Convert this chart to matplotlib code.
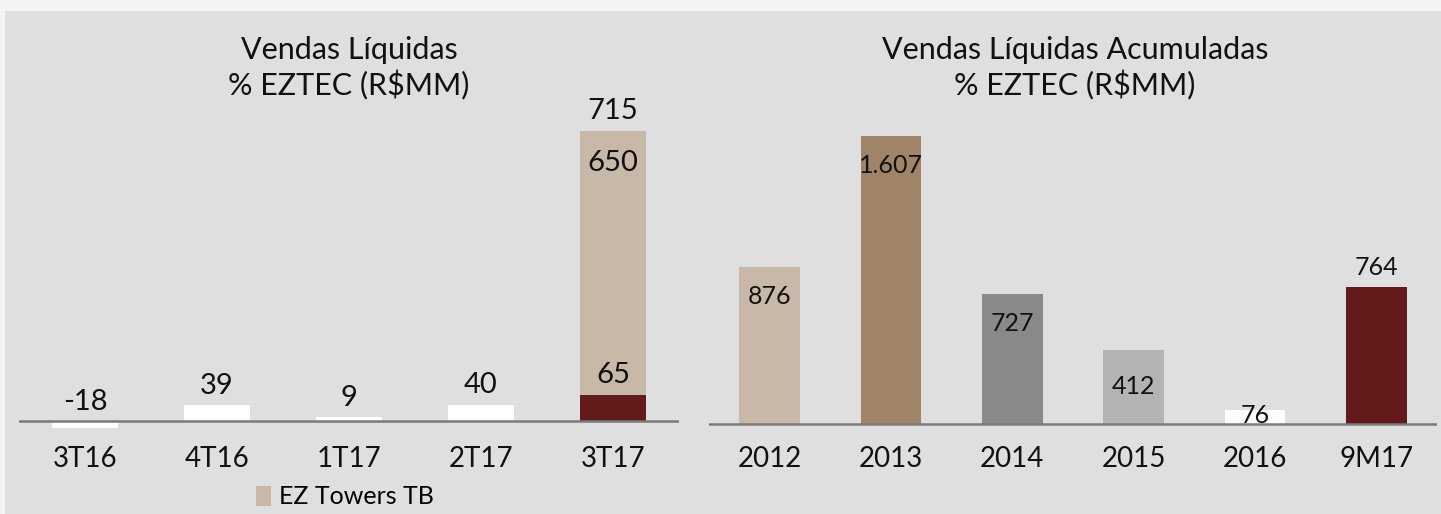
import matplotlib
matplotlib.use("Agg")
import matplotlib.pyplot as plt
import matplotlib.transforms as mtrans
from matplotlib.patches import Rectangle, Patch

plt.rcParams['font.family'] = ['Lato', 'DejaVu Sans']

# left chart data (quarterly)
quarters = ["3T16", "4T16", "1T17", "2T17", "3T17"]
others = [-18, 39, 9, 40, 65]
towers = [0, 0, 0, 0, 650]
totals = [-18, 39, 9, 40, 715]

# right chart data (yearly)
years = ["2012", "2013", "2014", "2015", "2016", "9M17"]
yearly = [876, 1607, 727, 412, 76, 764]

W, H = 1441, 514
fig = plt.figure(figsize=(W / 100, H / 100), dpi=100, facecolor="#f4f4f4")

# grey panel behind both charts
fig.patches.append(Rectangle((5 / W, 0), 1, 1 - 11 / H, transform=fig.transFigure,
                             facecolor="#dfdfdf", edgecolor="none", zorder=-5))

def px_axes(x0, x1, y_top, y_bot):
    return fig.add_axes([x0 / W, 1 - y_bot / H, (x1 - x0) / W, (y_bot - y_top) / H])

def clean(ax):
    ax.set_facecolor("none")
    for s in ax.spines.values():
        s.set_visible(False)
    ax.set_xticks([])
    ax.set_yticks([])

# ---------------- left chart ----------------
ax1 = px_axes(19, 679, 100, 460)
clean(ax1)
ax1.set_xlim(-0.5, 4.5)
ax1.set_ylim(-96, 791)

x1 = list(range(len(quarters)))
base_cols = ["#ffffff", "#ffffff", "#ffffff", "#ffffff", "#621a1a"]
ax1.bar(x1, others, width=0.5, color=base_cols, zorder=2)
ax1.bar(x1, towers, width=0.5, bottom=[max(v, 0) for v in others], color="#c8b8a8", zorder=2)
ax1.axhline(0, color="#7a7a7a", lw=1.8, zorder=3)

# value labels above bars
for i in range(len(quarters)):
    top = max(totals[i], 0)
    ax1.annotate(str(totals[i]), (i, top), xytext=(0, 14), textcoords="offset points",
                 ha="center", va="center", fontsize=21, color="#111111")
# inner labels of the stacked bar
ax1.annotate(str(towers[4]), (4, totals[4]), xytext=(0, -23), textcoords="offset points",
             ha="center", va="center", fontsize=21, color="#111111")
ax1.annotate(str(others[4]), (4, others[4]), xytext=(0, 14), textcoords="offset points",
             ha="center", va="center", fontsize=21, color="#111111")

tr1 = mtrans.blended_transform_factory(ax1.transData, fig.transFigure)
for i, q in enumerate(quarters):
    ax1.text(i, 1 - 459 / H, q, transform=tr1, ha="center", va="center", fontsize=20, color="#111111")

fig.text(349 / W, 1 - 68 / H, "Vendas Líquidas\n% EZTEC (R$MM)", ha="center", va="center",
         fontsize=22, color="#111111", linespacing=1.25)

leg = fig.legend(handles=[Patch(facecolor="#c8b8a8", edgecolor="none", label="EZ Towers TB")],
                 loc="center", bbox_to_anchor=(345 / W, 1 - 497 / H), frameon=False,
                 fontsize=18, handlelength=0.6, handleheight=0.9, handletextpad=0.3,
                 borderpad=0, borderaxespad=0)

# ---------------- right chart ----------------
ax2 = px_axes(709, 1437, 100, 460)
clean(ax2)
ax2.set_xlim(-0.5, 5.5)
ax2.set_ylim(-201, 1810)

x2 = list(range(len(years)))
year_cols = ["#c8b8a8", "#a08468", "#898989", "#b3b3b3", "#ffffff", "#621a1a"]
ax2.bar(x2, yearly, width=0.5, color=year_cols, zorder=2)
ax2.axhline(0, color="#7a7a7a", lw=1.8, zorder=3)

# label offsets in points (inside end, last one outside)
offs = [-21, -21, -21, -26, -4, 14]
for i, v in enumerate(yearly):
    ax2.annotate(f"{v:,}".replace(",", "."), (i, v), xytext=(0, offs[i]), textcoords="offset points",
                 ha="center", va="center", fontsize=18, color="#111111", zorder=4)

tr2 = mtrans.blended_transform_factory(ax2.transData, fig.transFigure)
for i, y in enumerate(years):
    ax2.text(i, 1 - 459 / H, y, transform=tr2, ha="center", va="center", fontsize=20, color="#111111")

fig.text(1075 / W, 1 - 68 / H, "Vendas Líquidas Acumuladas\n% EZTEC (R$MM)", ha="center", va="center",
         fontsize=22, color="#111111", linespacing=1.25)

fig.savefig("out.png", dpi=100, facecolor=fig.get_facecolor())
